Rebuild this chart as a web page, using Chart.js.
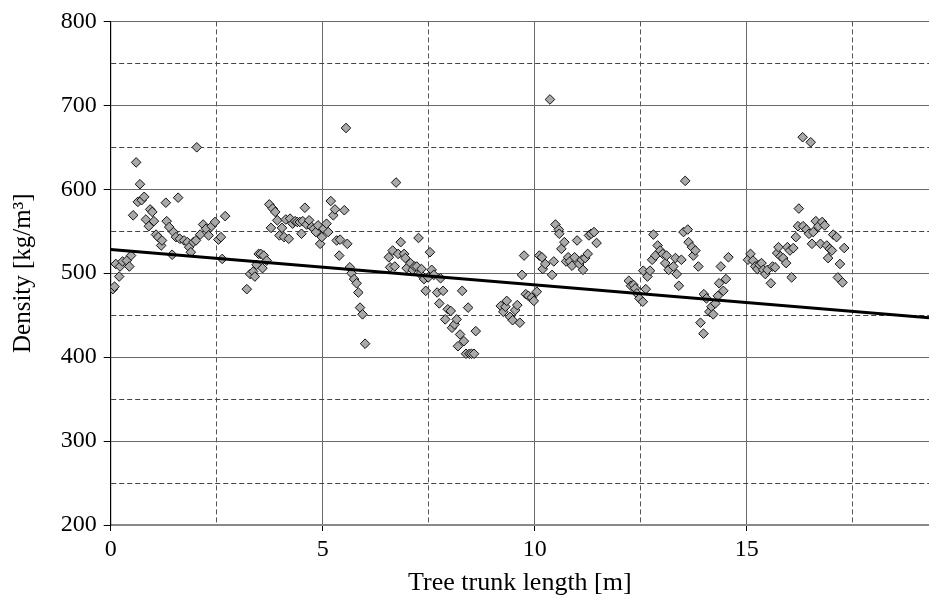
<!DOCTYPE html>
<html>
<head>
<meta charset="utf-8">
<script src="https://cdn.jsdelivr.net/npm/chart.js@4/dist/chart.umd.min.js"></script>
<style>
  html, body { margin: 0; padding: 0; background: #fff; }
  #wrap { width: 929px; height: 597px; }
</style>
</head>
<body>
<div id="wrap"><canvas id="c" width="929" height="597"></canvas></div>
<script>
// Sampled positions along the trunk [m]
const positions = [
  0.05,0.09,0.12,0.20,0.22,0.28,0.38,0.44,0.48,0.53,0.60,0.64,0.69,0.73,0.79,0.83,0.90,0.93,0.98,1.02,
  1.07,1.12,1.19,1.21,1.30,1.32,1.38,1.45,1.48,1.54,1.59,1.63,1.73,1.81,1.85,1.89,1.95,2.01,2.03,2.11,
  2.18,2.25,2.31,2.38,2.46,2.54,2.60,2.63,2.70,
  3.21,3.29,3.36,3.40,3.44,3.49,3.54,3.58,3.61,3.68,3.74,3.78,3.82,3.88,3.93,3.98,4.04,4.09,4.13,4.20,
  4.23,4.29,4.35,4.40,4.46,4.50,4.53,4.58,4.62,4.68,4.74,4.79,4.84,4.89,4.94,4.98,5.02,5.09,5.13,5.19,
  5.25,5.29,5.33,5.39,5.41,5.51,5.55,5.58,5.64,5.68,5.74,5.80,5.84,5.88,5.94,6.00,
  6.56,6.59,6.65,6.70,6.73,6.78,6.84,6.92,6.95,6.98,7.07,7.12,7.17,7.22,7.26,7.30,7.33,7.39,7.43,7.49,
  7.53,7.57,7.62,7.70,7.75,7.78,7.84,7.89,7.95,8.02,8.05,8.11,8.16,8.19,8.24,8.29,8.33,8.38,8.43,8.46,
  8.51,8.57,8.61,
  9.20,9.26,9.31,9.34,9.42,9.48,9.54,9.59,9.65,9.70,9.75,9.79,9.85,9.93,9.98,10.05,10.11,10.17,10.19,10.25,
  10.36,10.41,10.45,10.49,10.57,10.58,10.63,10.70,10.74,10.79,10.83,10.88,10.94,11.00,11.05,11.11,11.14,11.19,11.25,11.28,
  11.33,11.40,11.46,
  12.22,12.27,12.33,12.37,12.41,12.47,12.55,12.56,12.62,12.66,12.72,12.77,12.80,12.85,12.90,12.96,13.02,13.08,13.11,13.16,
  13.27,13.32,13.35,13.40,13.46,13.51,13.55,13.61,13.63,13.71,13.74,13.79,13.86,13.91,13.98,13.99,14.05,14.12,14.17,14.21,
  14.26,14.32,14.35,14.39,14.45,14.51,14.57,
  15.03,15.09,15.15,15.20,15.25,15.30,15.35,15.39,15.44,15.49,15.57,15.61,15.67,15.72,15.75,15.80,15.86,15.93,15.96,16.02,
  16.06,16.10,16.16,16.21,16.23,16.32,16.33,16.41,16.47,16.51,16.54,16.57,16.63,16.69,16.74,16.78,16.84,16.89,16.92,16.96,
  17.01,17.04,17.12,17.15,17.20,17.26,17.30
];
// Measured densities [kg/m^3]
const densities = [
  481,484,511,496,508,514,515,508,521,569,632,585,606,587,591,564,556,576,573,562,
  546,543,533,539,584,562,555,522,549,543,590,541,539,537,531,525,537,539,650,546,
  558,553,545,556,561,540,543,517,568,
  481,499,502,496,510,523,523,506,521,515,582,554,577,573,563,545,554,543,564,541,
  565,559,562,561,561,547,562,578,558,563,555,553,549,557,535,543,553,559,549,586,
  569,576,539,521,540,575,673,535,507,500,493,488,477,459,451,416,
  519,507,527,508,608,523,537,523,518,506,512,504,508,508,542,499,505,493,479,495,
  525,504,498,477,464,494,479,445,457,455,435,439,445,413,427,479,419,404,459,404,
  404,404,431,
  461,454,460,467,448,444,456,462,441,498,521,475,473,471,467,478,521,519,505,511,
  707,498,514,558,552,547,529,537,514,519,514,509,519,539,511,516,504,518,523,545,
  547,549,536,
  491,485,486,482,476,470,466,503,481,496,503,516,546,521,533,527,523,512,521,504,
  508,518,499,485,516,549,610,552,537,531,521,527,508,441,428,475,470,454,460,451,
  464,473,488,508,479,493,519,
  516,523,515,508,505,510,512,504,499,504,488,508,507,524,531,520,518,512,531,527,
  495,530,543,556,577,662,556,552,547,656,535,549,562,556,535,561,557,533,518,529,
  527,546,543,495,511,489,530
];
// Linear trend (end points)
const trendX = [0, 19.3];
const trendY = [528.1, 447.0];
// Axis ticks
const xTicks = [0, 2.5, 5, 7.5, 10, 12.5, 15, 17.5];
const yTicks = [200, 250, 300, 350, 400, 450, 500, 550, 600, 650, 700, 750, 800];

const FONT = "'Liberation Serif', 'Times New Roman', serif";
const isMajorX = v => Math.abs(v % 5) < 1e-9;
const isMajorY = v => Math.abs(v % 100) < 1e-9;

new Chart(document.getElementById('c'), {
  type: 'scatter',
  data: {
    datasets: [
      {
        data: trendX.map((x, i) => ({ x: x, y: trendY[i] })),
        showLine: true,
        borderColor: '#000',
        borderWidth: 3,
        pointRadius: 0,
        fill: false,
        order: 0
      },
      {
        data: positions.map((x, i) => ({ x: x, y: densities[i] })),
        pointStyle: 'rectRot',
        pointRadius: 4.8,
        backgroundColor: '#a9a9a9',
        borderColor: '#111',
        borderWidth: 1,
        order: 1
      }
    ]
  },
  options: {
    responsive: false,
    animation: false,
    devicePixelRatio: 1,
    layout: { autoPadding: false, padding: { top: 21, right: 0, bottom: 0, left: 0 } },
    plugins: { legend: { display: false }, tooltip: { enabled: false } },
    scales: {
      x: {
        type: 'linear',
        min: 0,
        max: 19.3,
        afterBuildTicks: s => { s.ticks = xTicks.map(v => ({ value: v })); },
        afterFit: s => { s.height = 72; },
        ticks: {
          callback: v => isMajorX(v) ? String(v) : '',
          font: { family: FONT, size: 24 },
          color: '#000',
          padding: 4,
          maxRotation: 0,
          autoSkip: false
        },
        grid: {
          color: c => (c.tick && isMajorX(c.tick.value)) ? '#6a6a6a' : '#555',
          lineWidth: 1,
          tickLength: 6,
          tickColor: c => (c.tick && isMajorX(c.tick.value)) ? '#000' : 'rgba(0,0,0,0)'
        },
        border: {
          color: '#888',
          width: 2,
          dash: c => (c.tick && !isMajorX(c.tick.value)) ? [5, 3] : []
        },
        title: {
          display: true,
          text: 'Tree trunk length [m]',
          font: { family: FONT, size: 26, lineHeight: 1 },
          color: '#000',
          padding: { top: 4, bottom: 1 }
        }
      },
      y: {
        type: 'linear',
        min: 200,
        max: 800,
        afterBuildTicks: s => { s.ticks = yTicks.map(v => ({ value: v })); },
        afterFit: s => { s.width = 110.7; },
        ticks: {
          callback: v => isMajorY(v) ? String(v) : '',
          font: { family: FONT, size: 24 },
          color: '#000',
          padding: 7,
          autoSkip: false
        },
        grid: {
          color: c => (c.tick && isMajorY(c.tick.value)) ? '#6a6a6a' : '#444',
          lineWidth: 1,
          tickLength: 7,
          tickColor: c => (c.tick && isMajorY(c.tick.value)) ? '#000' : 'rgba(0,0,0,0)'
        },
        border: {
          color: '#000',
          width: 1.2,
          dash: c => (c.tick && !isMajorY(c.tick.value)) ? [5, 3] : []
        },
        title: {
          display: true,
          text: 'Density [kg/m³]',
          font: { family: FONT, size: 25, lineHeight: 1 },
          color: '#000',
          padding: { top: 11, bottom: 0 }
        }
      }
    }
  }
});
</script>
</body>
</html>
